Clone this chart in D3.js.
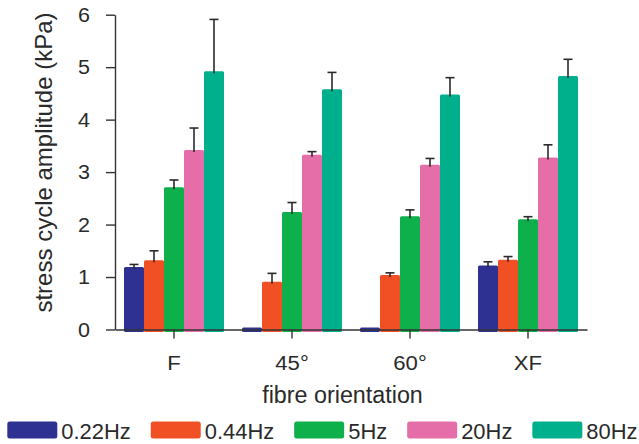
<!DOCTYPE html>
<html>
<head>
<meta charset="utf-8">
<script src="https://cdn.jsdelivr.net/npm/d3@7"></script>
<style>
  html, body { margin: 0; padding: 0; background: #fff; }
  svg { display: block; font-family: "Liberation Sans", Arial, Helvetica, sans-serif; }
</style>
</head>
<body>
<svg id="chart" width="639" height="444"></svg>
<script>
// Fibre orientation categories and stimulation frequencies
const categories = ["F", "45°", "60°", "XF"];
const series = ["0.22Hz", "0.44Hz", "5Hz", "20Hz", "80Hz"];

// Mean stress cycle amplitude (kPa) per frequency, one value per orientation
const amp022 = [1.19, 0.04, 0.04, 1.22];
const amp044 = [1.32, 0.91, 1.04, 1.33];
const amp5   = [2.71, 2.24, 2.16, 2.10];
const amp20  = [3.42, 3.33, 3.14, 3.28];
const amp80  = [4.92, 4.58, 4.48, 4.83];

// Upper error (kPa); 0 = no error bar drawn
const err022 = [0.05, 0, 0, 0.07];
const err044 = [0.18, 0.16, 0.04, 0.06];
const err5   = [0.14, 0.18, 0.12, 0.05];
const err20  = [0.42, 0.06, 0.12, 0.24];
const err80  = [0.99, 0.32, 0.32, 0.32];

const yTicks = [0, 1, 2, 3, 4, 5, 6];
const colors = ["#2e3192", "#f15024", "#0db04b", "#e56ea8", "#00b08c"];

const values = [amp022, amp044, amp5, amp20, amp80];
const errors = [err022, err044, err5, err20, err80];

const svg = d3.select("#chart");
const ink = "#2a2a2a";

const plot = { left: 115, right: 587, top: 14.7, bottom: 329.5 };

const y = d3.scaleLinear().domain([0, 6]).range([plot.bottom, plot.top]);
const x0 = d3.scaleBand().domain(categories).range([plot.left, plot.right]);
const groupWidth = 100;
const x1 = d3.scaleBand().domain(series).range([0, groupWidth]);
const color = d3.scaleOrdinal().domain(series).range(colors);

// flatten into records
const records = [];
series.forEach((s, si) => {
  categories.forEach((c, ci) => {
    records.push({ s, c, v: values[si][ci], e: errors[si][ci] });
  });
});

const barX = d => x0(d.c) + (x0.bandwidth() - groupWidth) / 2 + x1(d.s);

// bars
svg.append("g")
  .selectAll("rect")
  .data(records)
  .join("rect")
  .attr("x", barX)
  .attr("y", d => y(d.v))
  .attr("width", x1.bandwidth())
  .attr("height", d => y(0) - y(d.v) + 2.5)
  .attr("rx", 1.5)
  .attr("fill", d => color(d.s));

// error bars
const eb = svg.append("g")
  .attr("stroke", ink)
  .attr("stroke-width", 1.6)
  .selectAll("g")
  .data(records.filter(d => d.e > 0))
  .join("g");
eb.append("line")
  .attr("x1", d => barX(d) + x1.bandwidth() / 2)
  .attr("x2", d => barX(d) + x1.bandwidth() / 2)
  .attr("y1", d => y(d.v) + 2)
  .attr("y2", d => y(d.v + d.e));
eb.append("line")
  .attr("x1", d => barX(d) + x1.bandwidth() / 2 - 4.5)
  .attr("x2", d => barX(d) + x1.bandwidth() / 2 + 4.5)
  .attr("y1", d => y(d.v + d.e))
  .attr("y2", d => y(d.v + d.e));

// place text at its own (x,y) and widen it horizontally by sx
function stretch(sel, sx) {
  sel.each(function () {
    const t = d3.select(this);
    const tx = +t.attr("x") || 0;
    const ty = +t.attr("y") || 0;
    t.attr("x", 0).attr("y", 0)
     .attr("transform", `translate(${tx},${ty}) scale(${sx},1)`);
  });
}

// y axis
const yAxis = svg.append("g")
  .attr("transform", `translate(${plot.left},0)`)
  .call(d3.axisLeft(y).tickValues(yTicks).tickFormat(d3.format("d"))
    .tickSize(9).tickSizeOuter(0).tickPadding(16));
yAxis.attr("font-family", null).attr("font-size", null);
yAxis.selectAll(".tick text")
  .attr("font-size", 20.5)
  .attr("fill", ink);
stretch(yAxis.selectAll(".tick text"), 1.05);

// x axis
const xAxis = svg.append("g")
  .attr("transform", `translate(0,${plot.bottom})`)
  .call(d3.axisBottom(x0).tickSize(9).tickSizeOuter(0).tickPadding(16.5));
xAxis.attr("font-family", null).attr("font-size", null);
xAxis.selectAll(".tick text")
  .attr("font-size", 20.5)
  .attr("fill", ink);
stretch(xAxis.selectAll(".tick text"), 1.08);

svg.selectAll(".domain, .tick line")
  .attr("stroke", "#333")
  .attr("stroke-width", 1.4);

// axis titles
svg.append("text")
  .attr("transform", "translate(51.5,162.5) rotate(-90)")
  .attr("text-anchor", "middle")
  .attr("font-size", 24)
  .attr("fill", ink)
  .text("stress cycle amplitude (kPa)");

svg.append("text")
  .attr("transform", "translate(342.5,402.7)")
  .attr("text-anchor", "middle")
  .attr("font-size", 23.3)
  .attr("fill", ink)
  .text("fibre orientation");

// legend
const legend = svg.append("g");
let lx = 7.3;
const swW = 50, swH = 17, swY = 421.5, legSx = 1.02;
series.forEach(s => {
  legend.append("rect")
    .attr("x", lx).attr("y", swY)
    .attr("width", swW).attr("height", swH)
    .attr("rx", 2.5)
    .attr("fill", color(s));
  const t = legend.append("text")
    .attr("transform", `translate(${lx + swW + 4},438.6) scale(${legSx},1)`)
    .attr("font-size", 21.5)
    .attr("fill", ink)
    .text(s);
  const w = t.node().getComputedTextLength() * legSx;
  lx += swW + 4 + w + 20;
});
</script>
</body>
</html>
